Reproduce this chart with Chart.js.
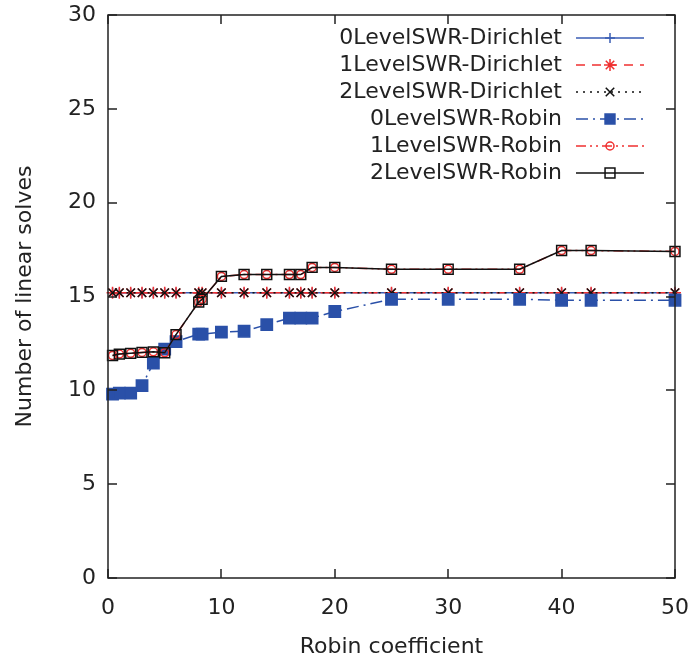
<!DOCTYPE html>
<html>
<head>
<meta charset="utf-8">
<script src="https://cdn.jsdelivr.net/npm/chart.js@4/dist/chart.umd.min.js"></script>
<style>
  html, body { margin: 0; padding: 0; background: #fff; }
</style>
</head>
<body>
<canvas id="chart" width="690" height="662"></canvas>
<script>
'use strict';

// Robin coefficients sampled (shared by every series)
const robinCoef = [0.4, 1, 2, 3, 4, 5, 6, 8, 8.3, 10, 12, 14, 16, 17, 18, 20, 25, 30, 36.3, 40, 42.6, 50];

const dir0 = [15.2, 15.2, 15.2, 15.2, 15.2, 15.2, 15.2, 15.2, 15.2, 15.2, 15.2, 15.2, 15.2, 15.2, 15.2, 15.2, 15.2, 15.2, 15.2, 15.2, 15.2, 15.2];
const dir1 = [15.2, 15.2, 15.2, 15.2, 15.2, 15.2, 15.2, 15.2, 15.2, 15.2, 15.2, 15.2, 15.2, 15.2, 15.2, 15.2, 15.2, 15.2, 15.2, 15.2, 15.2, 15.2];
const dir2 = [15.2, 15.2, 15.2, 15.2, 15.2, 15.2, 15.2, 15.2, 15.2, 15.2, 15.2, 15.2, 15.2, 15.2, 15.2, 15.2, 15.2, 15.2, 15.2, 15.2, 15.2, 15.2];
const rob0 = [9.8, 9.85, 9.85, 10.25, 11.45, 12.2, 12.6, 13.0, 13.0, 13.1, 13.15, 13.5, 13.85, 13.85, 13.85, 14.2, 14.85, 14.85, 14.85, 14.8, 14.8, 14.8];
const rob1 = [11.86, 11.93, 11.97, 12.02, 12.05, 12.0, 12.97, 14.7, 14.85, 16.07, 16.17, 16.17, 16.17, 16.17, 16.55, 16.55, 16.45, 16.45, 16.45, 17.45, 17.45, 17.4];
const rob2 = [11.86, 11.93, 11.97, 12.02, 12.05, 12.0, 12.97, 14.7, 14.85, 16.07, 16.17, 16.17, 16.17, 16.17, 16.55, 16.55, 16.45, 16.45, 16.45, 17.45, 17.45, 17.4];

const FONT = '"DejaVu Sans", sans-serif';
const BLUE = '#3a5db4';
const BLUE_FILL = '#2a50a8';
const RED = '#f03030';

const pts = vals => robinCoef.map((x, i) => ({ x, y: vals[i] }));

function series(label, vals, color, dash, style, radius, fill, order) {
  return {
    label,
    data: pts(vals),
    borderColor: color,
    borderWidth: 1.5,
    borderDash: dash,
    pointStyle: style,
    pointRadius: radius,
    pointHoverRadius: radius,
    pointBorderColor: color,
    pointBackgroundColor: fill,
    pointBorderWidth: 1.5,
    tension: 0,
    clip: false,
    order,
  };
}

// later series drawn on top, as gnuplot does
const datasets = [
  series('0LevelSWR-Dirichlet', dir0, BLUE, [], 'cross', 5, BLUE, 6),
  series('1LevelSWR-Dirichlet', dir1, RED, [9, 7], 'star', 6, RED, 5),
  series('2LevelSWR-Dirichlet', dir2, '#111', [2, 5], 'crossRot', 6, '#111', 4),
  series('0LevelSWR-Robin', rob0, BLUE_FILL, [12, 5, 2, 5], 'rect', 8, BLUE_FILL, 3),
  series('1LevelSWR-Robin', rob1, RED, [10, 4, 2, 4, 2, 4], 'circle', 4, 'rgba(0,0,0,0)', 2),
  series('2LevelSWR-Robin', rob2, '#111', [], 'rect', 7, 'rgba(0,0,0,0)', 1),
];

// frame with inward mirrored ticks, gnuplot style
const framePlugin = {
  id: 'frame',
  afterDraw(chart) {
    const { ctx, chartArea: a, scales: { x, y } } = chart;
    const len = 9;
    ctx.save();
    ctx.strokeStyle = '#222';
    ctx.lineWidth = 1.5;
    ctx.strokeRect(a.left, a.top, a.right - a.left, a.bottom - a.top);
    ctx.beginPath();
    x.ticks.forEach(t => {
      const px = Math.round(x.getPixelForValue(t.value));
      ctx.moveTo(px, a.bottom); ctx.lineTo(px, a.bottom - len);
      ctx.moveTo(px, a.top); ctx.lineTo(px, a.top + len);
    });
    y.ticks.forEach(t => {
      const py = Math.round(y.getPixelForValue(t.value));
      ctx.moveTo(a.left, py); ctx.lineTo(a.left + len, py);
      ctx.moveTo(a.right, py); ctx.lineTo(a.right - len, py);
    });
    ctx.stroke();
    ctx.restore();
  }
};

// key in the top right: text right-aligned, sample to its right
const legendPlugin = {
  id: 'gpLegend',
  afterDraw(chart) {
    const ctx = chart.ctx;
    ctx.save();
    ctx.font = '22px ' + FONT;
    ctx.textAlign = 'right';
    ctx.textBaseline = 'middle';
    chart.data.datasets.forEach((ds, i) => {
      const y = 38 + i * 27;
      ctx.fillStyle = '#222';
      ctx.fillText(ds.label, 562, y);
      ctx.strokeStyle = ds.borderColor;
      ctx.lineWidth = ds.borderWidth;
      ctx.setLineDash(ds.borderDash);
      ctx.beginPath();
      ctx.moveTo(576, y);
      ctx.lineTo(644, y);
      ctx.stroke();
      ctx.setLineDash([]);
      ctx.fillStyle = ds.pointBackgroundColor;
      ctx.strokeStyle = ds.pointBorderColor;
      ctx.lineWidth = ds.pointBorderWidth;
      Chart.helpers.drawPoint(ctx, {
        pointStyle: ds.pointStyle,
        radius: ds.pointStyle === 'rect' ? 7 : ds.pointRadius,
        rotation: 0,
        borderWidth: ds.pointBorderWidth,
      }, 610, y);
    });
    ctx.restore();
  }
};

new Chart(document.getElementById('chart'), {
  type: 'line',
  data: { datasets },
  options: {
    responsive: false,
    animation: false,
    devicePixelRatio: 1,
    layout: { padding: { top: 15, right: 15, left: 0, bottom: 0 } },
    plugins: {
      legend: { display: false },
      tooltip: { enabled: false },
    },
    scales: {
      x: {
        type: 'linear',
        min: 0, max: 50,
        afterFit: s => { s.height = 84; s.paddingLeft = 0; s.paddingRight = 0; },
        grid: { display: false, drawTicks: false },
        border: { display: false },
        ticks: { stepSize: 10, padding: 17, color: '#222', font: { family: FONT, size: 22 } },
        title: { display: true, text: 'Robin coefficient', color: '#222', font: { family: FONT, size: 22 }, padding: { bottom: 2, top: 0 } },
      },
      y: {
        min: 0, max: 30,
        afterFit: s => { s.width = 108; s.paddingTop = 0; s.paddingBottom = 0; },
        grid: { display: false, drawTicks: false },
        border: { display: false },
        ticks: { stepSize: 5, padding: 12, color: '#222', font: { family: FONT, size: 22 } },
        title: { display: true, text: 'Number of linear solves', color: '#222', font: { family: FONT, size: 22 }, padding: { top: 12, bottom: 0 } },
      },
    },
  },
  plugins: [framePlugin, legendPlugin],
});
</script>
</body>
</html>
